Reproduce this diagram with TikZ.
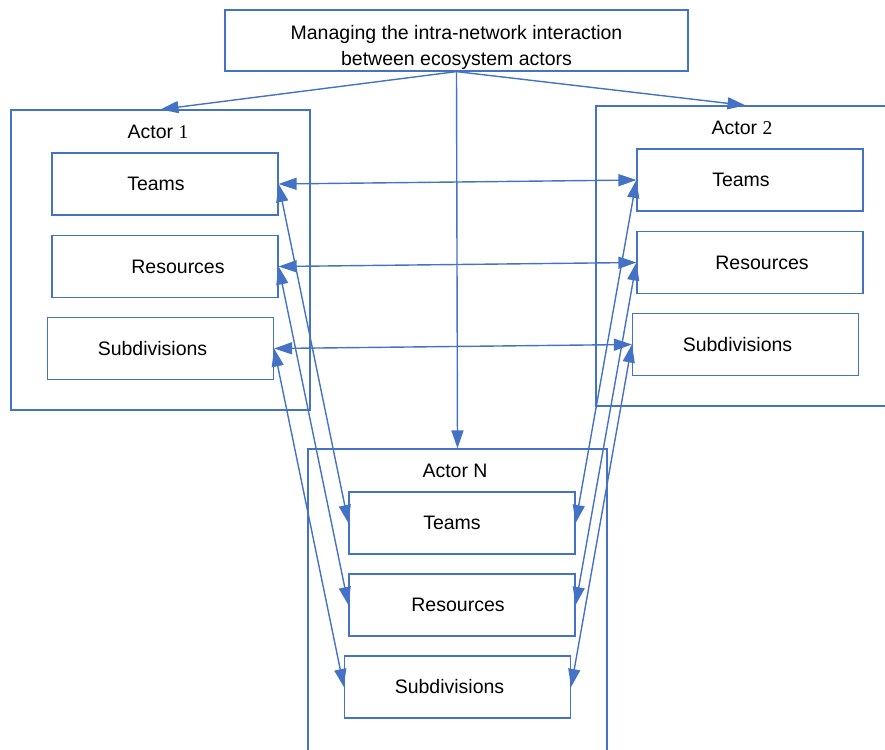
\documentclass[tikz,border=0pt]{standalone}
\usepackage{fontspec}
\setmainfont{Liberation Sans}
\newfontfamily\numfont{Liberation Serif}
\usepackage{xcolor}
\usetikzlibrary{arrows.meta}
\definecolor{lineblue}{HTML}{4472C4}

\begin{document}
\begin{tikzpicture}[x=1pt,y=-1pt,>={Triangle[length=18pt,width=12pt]},
every node/.style={font=\fontsize{19.5}{26}\selectfont},
box/.style={draw=lineblue,line width=1.2pt,minimum width=226pt,minimum height=62pt,inner sep=0pt},
actor/.style={draw=lineblue,line width=1.2pt,minimum width=299pt,minimum height=300pt,inner sep=0pt},
link/.style={lineblue,line width=1.4pt}]
\clip(0,0)rectangle(885,749);
\node[draw=lineblue,line width=1.2pt,minimum width=463pt,minimum height=61pt,inner sep=0pt,align=center](head)at(456.5,40.5){\rule{0pt}{28pt}Managing the intra-network interaction\\between ecosystem actors};
\node[actor](a1)at(160.5,260){};
\node[actor](a2)at(745.5,256){};
\node[actor,minimum height=320pt](aN)at(457.5,609){};
\node(l1)at(158,132){Actor {\numfont 1}};
\node(l2)at(742,128){Actor {\numfont 2}};
\node(lN)at(455,471){Actor N};
%actor 1
\node[box](t1)at(165,184){Teams\hspace*{18pt}};
\node[box](r1)at(165,266.5){\hspace*{26pt}Resources};
\node[box](s1)at(160.5,348.5){Subdivisions\hspace*{16pt}};
%actor 2
\node[box](t2)at(750,180){Teams\hspace*{18pt}};
\node[box](r2)at(750,262.5){\hspace*{24pt}Resources};
\node[box](s2)at(745.5,344.5){Subdivisions\hspace*{16pt}};
%actor N
\node[box](tN)at(462,523){Teams\hspace*{20pt}};
\node[box](rN)at(462,605){Resources\hspace*{8pt}};
\node[box](sN)at(457.5,687){Subdivisions\hspace*{16pt}};
\foreach \a in {a1,a2,aN}\draw[link,->](head.south)--(\a.north);
\foreach \k in {t,r,s}{
\draw[link,<->](\k1.east)--(\k2.west);
\draw[link,<->](\k1.east)--(\k N.west);
\draw[link,<->](\k2.west)--(\k N.east);
}
\end{tikzpicture}
\end{document}
